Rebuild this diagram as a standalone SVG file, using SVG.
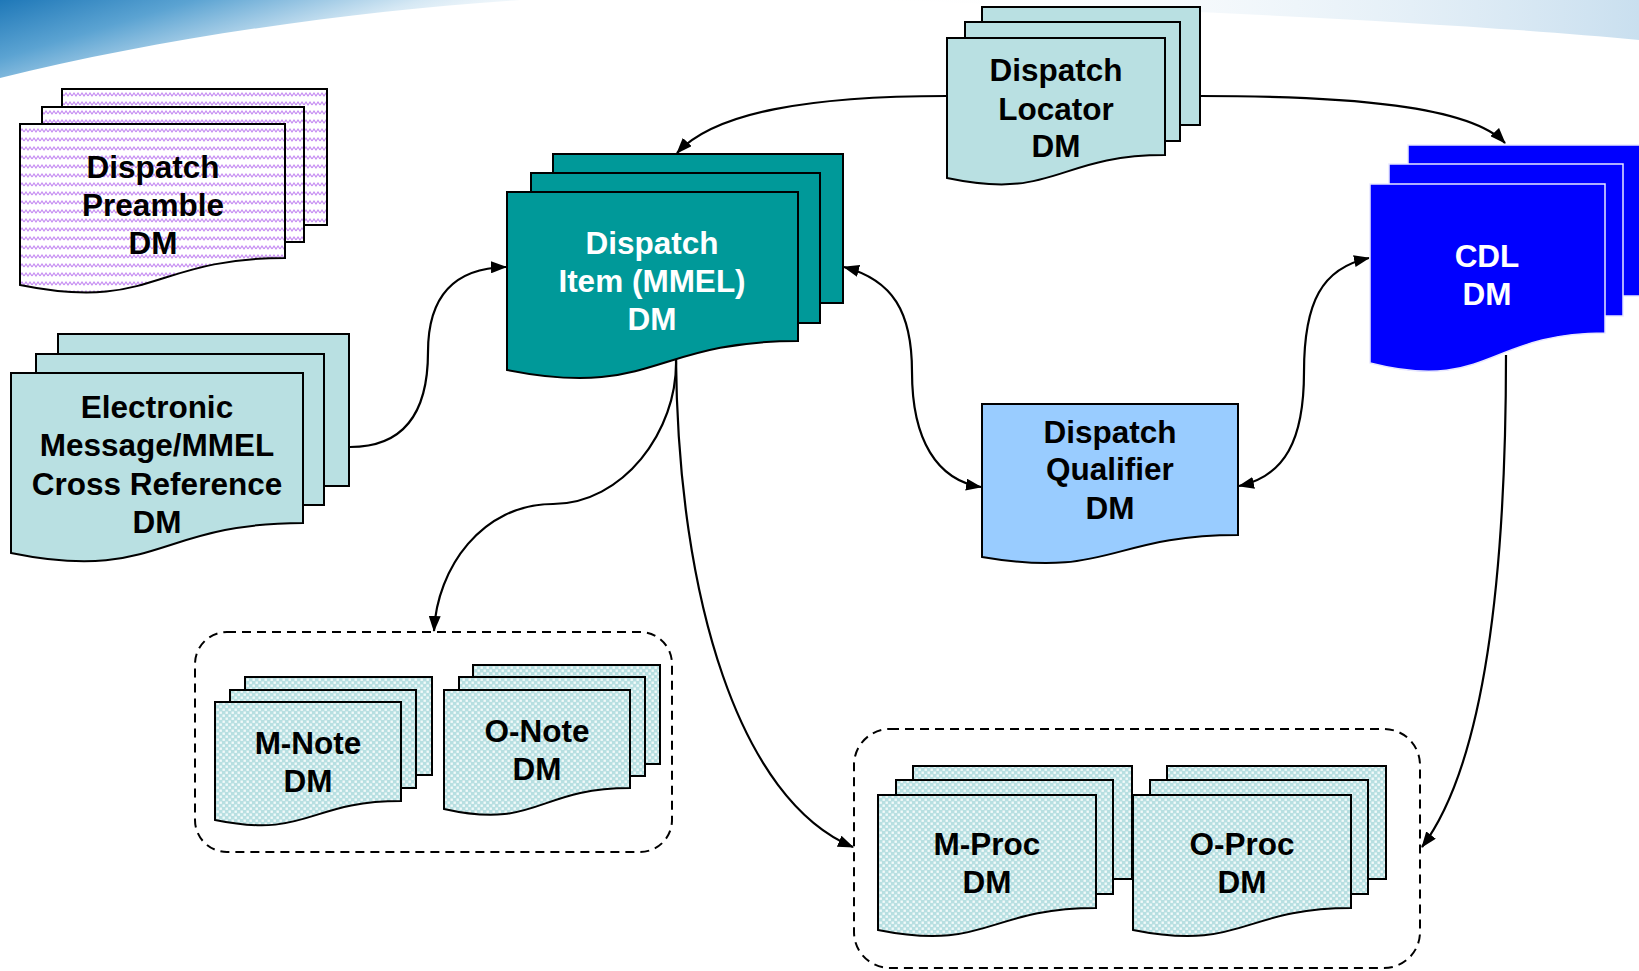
<svg xmlns="http://www.w3.org/2000/svg" width="1639" height="971" viewBox="0 0 1639 971">
<defs>
<style>
.sh{stroke:#000;stroke-width:2}
.t{font-family:"Liberation Sans",Arial,sans-serif;font-weight:bold;font-size:31.5px;text-anchor:middle;fill:#000}
.tw{fill:#fff}
.teal{fill:#B9E0E2}
.item{fill:#009999}
.cdl{fill:#0000FF;stroke:#E8E8FF;stroke-width:1.5}
.qual{fill:#99CCFF}
.pre{fill:url(#zig)}
.chk{fill:url(#chk)}
.con{fill:none;stroke:#000;stroke-width:2.2}
.grp{fill:none;stroke:#000;stroke-width:2;stroke-dasharray:9 6}
</style>
<pattern id="zig" width="8" height="9" patternUnits="userSpaceOnUse">
<rect width="8" height="9" fill="#fff"/>
<path d="M0,6 L2,3 L4,6 L6,3 L8,6" fill="none" stroke="#C58BF2" stroke-width="1.2"/>
</pattern>
<pattern id="chk" width="6" height="6" patternUnits="userSpaceOnUse">
<rect width="6" height="6" fill="#B7DFE1"/>
<rect x="0.5" y="0.5" width="2.4" height="2.4" fill="#F2FAFA"/>
<rect x="3.5" y="3.5" width="2.4" height="2.4" fill="#F2FAFA"/>
</pattern>
<marker id="ah" viewBox="0 0 16 12" refX="15" refY="6" markerWidth="16" markerHeight="12" markerUnits="userSpaceOnUse" orient="auto-start-reverse">
<path d="M0,0 L16,6 L0,12 Z" fill="#000"/>
</marker>
<linearGradient id="bgL" x1="0" y1="0" x2="1" y2="0.5">
<stop offset="0" stop-color="#1F78B8"/>
<stop offset="0.3" stop-color="#5BA3D2"/>
<stop offset="0.65" stop-color="#D5E8F4"/>
<stop offset="1" stop-color="#FFFFFF" stop-opacity="0"/>
</linearGradient>
<linearGradient id="bgR" x1="0" y1="0" x2="1" y2="0">
<stop offset="0" stop-color="#FFFFFF" stop-opacity="0"/>
<stop offset="1" stop-color="#C9DFEF"/>
</linearGradient>
</defs>
<rect width="1639" height="971" fill="#fff"/>
<g id="background">
<path d="M0,0 H520 C360,10 160,38 0,78 Z" fill="url(#bgL)"/>
<path d="M860,0 H1639 V40 C1450,22 1150,8 860,0 Z" fill="url(#bgR)"/>
</g>

<g id="connectors">
<path class="con" d="M947,96 C810,96 715,112 677,153" marker-end="url(#ah)"/>
<path class="con" d="M1200,96 C1350,96 1470,106 1505,143" marker-end="url(#ah)"/>
<path class="con" d="M350,447 C398,447 428,420 428,352 C428,292 458,268 506,267" marker-end="url(#ah)"/>
<path class="con" d="M844,267 C893,280 912,312 912,372 C912,440 937,480 981,487" marker-start="url(#ah)" marker-end="url(#ah)"/>
<path class="con" d="M1239,486 C1285,476 1304,440 1304,372 C1304,302 1322,268 1369,258" marker-start="url(#ah)" marker-end="url(#ah)"/>
<path class="con" d="M676,359 C678,432 622,504 553,504 C482,504 437,568 434,631" marker-end="url(#ah)"/>
<path class="con" d="M676,359 C678,600 740,800 853,847" marker-end="url(#ah)"/>
<path class="con" d="M1506,355 C1506,600 1480,770 1422,847" marker-end="url(#ah)"/>
</g>

<g id="node-preamble">
<rect class="sh pre" x="62" y="89" width="265" height="136"/>
<rect class="sh pre" x="42" y="107" width="262" height="135"/>
<path class="sh pre" d="M20,124 H285 V258 C152.5,258 152.5,312 20,285 Z"/>
<text class="t" x="153" y="178">Dispatch</text>
<text class="t" x="153" y="216">Preamble</text>
<text class="t" x="153" y="254">DM</text>
</g>

<g id="node-electronic">
<rect class="sh teal" x="58" y="334" width="291" height="152"/>
<rect class="sh teal" x="36" y="354" width="288" height="151"/>
<path class="sh teal" d="M11,373 H303 V523 C157,523 157,583 11,553 Z"/>
<text class="t" x="157" y="418">Electronic</text>
<text class="t" x="157" y="456">Message/MMEL</text>
<text class="t" x="157" y="495">Cross Reference</text>
<text class="t" x="157" y="533">DM</text>
</g>

<g id="node-item">
<rect class="sh item" x="553" y="154" width="290" height="149"/>
<rect class="sh item" x="531" y="173" width="289" height="150"/>
<path class="sh item" d="M507,192 H798 V341 C652.5,341 652.5,399 507,370 Z"/>
<text class="t tw" x="652" y="254">Dispatch</text>
<text class="t tw" x="652" y="292">Item (MMEL)</text>
<text class="t tw" x="652" y="330">DM</text>
</g>

<g id="node-locator">
<rect class="sh teal" x="982" y="7" width="218" height="118"/>
<rect class="sh teal" x="965" y="22" width="215" height="119"/>
<path class="sh teal" d="M947,38 H1165 V155 C1056,155 1056,201 947,178 Z"/>
<text class="t" x="1056" y="81">Dispatch</text>
<text class="t" x="1056" y="120">Locator</text>
<text class="t" x="1056" y="157">DM</text>
</g>

<g id="node-cdl">
<rect class="cdl" x="1408" y="145" width="240" height="151"/>
<rect class="cdl" x="1389" y="164" width="234" height="152"/>
<path class="cdl" d="M1370,184 H1605 V333 C1487.5,333 1487.5,393 1370,363 Z"/>
<text class="t tw" x="1487" y="267">CDL</text>
<text class="t tw" x="1487" y="305">DM</text>
</g>

<g id="node-qualifier">
<path class="sh qual" d="M982,404 H1238 V535 C1110,535 1110,579 982,557 Z"/>
<text class="t" x="1110" y="443">Dispatch</text>
<text class="t" x="1110" y="480">Qualifier</text>
<text class="t" x="1110" y="519">DM</text>
</g>

<g id="group-notes">
<rect class="grp" x="195" y="632" width="477" height="220" rx="32"/>
<g id="node-mnote">
<rect class="sh chk" x="245" y="677" width="187" height="98"/>
<rect class="sh chk" x="230" y="690" width="186" height="98"/>
<path class="sh chk" d="M215,702 H401 V801 C308,801 308,839 215,820 Z"/>
<text class="t" x="308" y="754">M-Note</text>
<text class="t" x="308" y="792">DM</text>
</g>
<g id="node-onote">
<rect class="sh chk" x="473" y="665" width="187" height="99"/>
<rect class="sh chk" x="459" y="677" width="186" height="99"/>
<path class="sh chk" d="M444,690 H630 V788 C537,788 537,830 444,809 Z"/>
<text class="t" x="537" y="742">O-Note</text>
<text class="t" x="537" y="780">DM</text>
</g>
</g>

<g id="group-procs">
<rect class="grp" x="854" y="729" width="566" height="239" rx="36"/>
<g id="node-mproc">
<rect class="sh chk" x="913" y="766" width="219" height="113"/>
<rect class="sh chk" x="896" y="780" width="217" height="114"/>
<path class="sh chk" d="M878,795 H1096 V908 C987,908 987,952 878,930 Z"/>
<text class="t" x="987" y="855">M-Proc</text>
<text class="t" x="987" y="893">DM</text>
</g>
<g id="node-oproc">
<rect class="sh chk" x="1167" y="766" width="219" height="113"/>
<rect class="sh chk" x="1150" y="780" width="218" height="114"/>
<path class="sh chk" d="M1133,795 H1351 V908 C1242,908 1242,952 1133,930 Z"/>
<text class="t" x="1242" y="855">O-Proc</text>
<text class="t" x="1242" y="893">DM</text>
</g>
</g>
</svg>
